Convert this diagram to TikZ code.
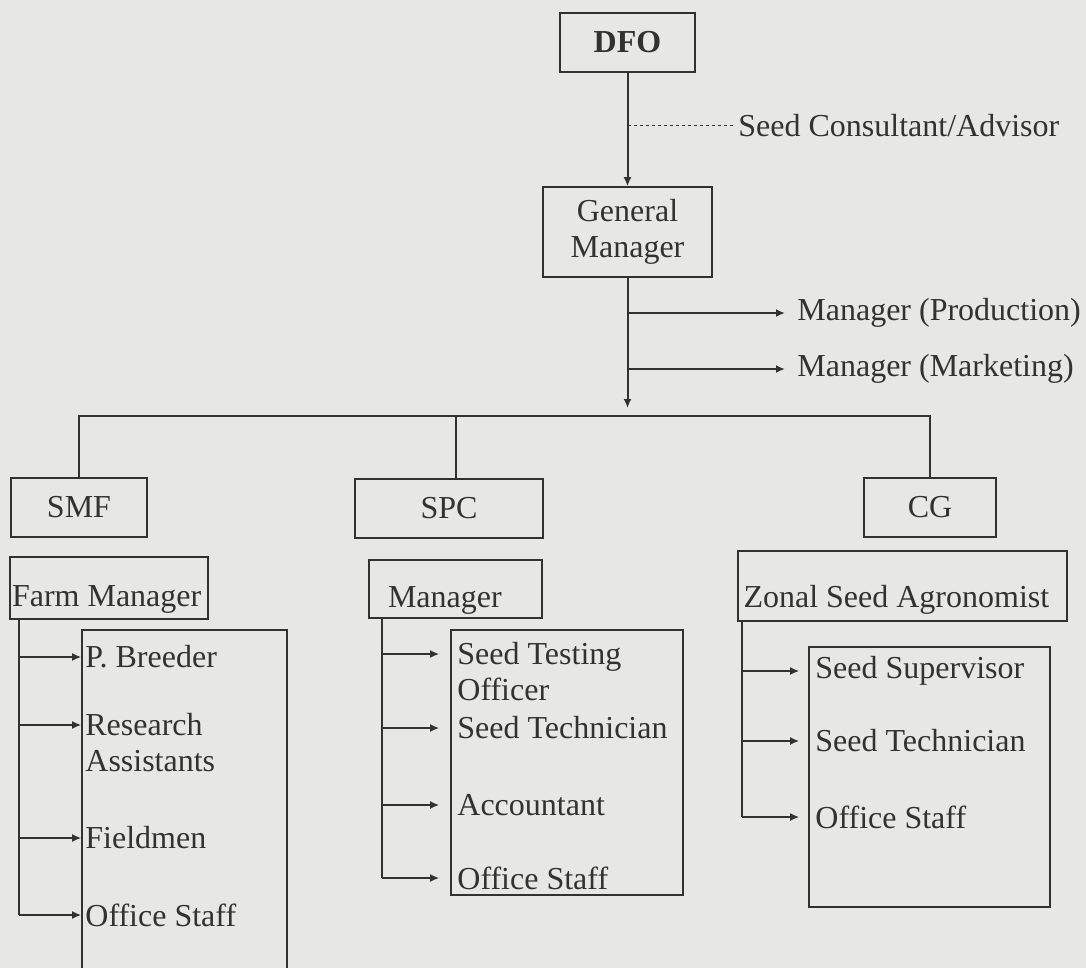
\documentclass[tikz,border=0pt]{standalone}
\usepackage{fontspec}
\setmainfont{Liberation Serif}
\usetikzlibrary{positioning,arrows.meta}
\definecolor{scan}{RGB}{231,231,229}
\definecolor{ink}{RGB}{50,50,50}

\begin{document}
\begin{tikzpicture}[x=0.5pt,y=-0.5pt,
  font=\fontsize{16}{18}\selectfont, text=ink,
  box/.style={draw=ink,line width=0.8pt,inner sep=0pt},
  head/.style={box,align=flush left,inner ysep=0pt},
  item/.style={anchor=west,align=left,inner sep=0pt},
  link/.style={draw=ink,line width=1pt},
  arr/.style={link,-{Latex[length=4.5pt,width=4pt]}}]
\fill[scan] (0,0) rectangle (1086,968);
\useasboundingbox (0,0) rectangle (1086,968);

\node[box,minimum width=67.5pt,minimum height=29.5pt,font=\fontsize{16}{18}\selectfont\bfseries] (dfo) at (627.5,42.5) {DFO};
\node[box,minimum width=84.5pt,minimum height=45pt,align=center] (gm) at (627.5,232) {General\\Manager};
\node[anchor=west,inner sep=2.5pt] (adv) at (733,126) {Seed Consultant/Advisor};
\node[anchor=west,inner xsep=6pt,inner ysep=0pt] (prod) at (785,313) {Manager (Production)};
\node[anchor=west,inner xsep=6pt,inner ysep=0pt] (mkt) at (785,369) {Manager (Marketing)};
\coordinate (bus) at (627.5,416);

\draw[arr] (dfo) -- (gm);
\draw[link,line width=0.5pt,dash pattern=on 1.5pt off 1.5pt] (dfo.south |- adv.west) -- (adv.west);
\draw[arr,shorten >=4pt] (gm.south) -- (bus);
\draw[arr] (gm.south |- prod.west) -- (prod.west);
\draw[arr] (gm.south |- mkt.west) -- (mkt.west);

\node[box,minimum width=68pt,minimum height=29.5pt] (smf) at (79,507.5) {SMF};
\node[box,minimum width=94pt,minimum height=29.5pt] (spc) at (449,508.5) {SPC};
\node[box,minimum width=66pt,minimum height=29.5pt] (cg) at (930,507.5) {CG};
\draw[link,line width=1.3pt] (smf.north) |- (bus) -| (cg.north);
\draw[link] (spc.north -| 456,0) -- (bus -| 456,0);

% SMF
\node[head,text width=97pt,inner xsep=1pt,text height=24.5pt,text depth=6.5pt] (fm) at (109,588) {Farm Manager};
\node[box,minimum width=102.5pt,minimum height=180pt] (fmin) at (184.5,810) {};
\node[item] (pb) at (85,657) {P. Breeder};
\node[item] (ra) at (85,743) {Research\\Assistants};
\node[item] (fd) at (85,838) {Fieldmen};
\node[item] (fo) at (85,915) {Office Staff};
\coordinate (fmv) at (19,619);
\coordinate (ra1) at ([yshift=9pt]ra.west);
\draw[link] (fmv |- fm.south) -- (fmv |- fo.west);
\foreach \n in {pb,ra1,fd,fo}
  \draw[arr] (fmv |- \n) -- (\n -| fmin.west);

% SPC
\node[head,text width=67.5pt,inner xsep=9.5pt,text height=23.5pt,text depth=5.5pt] (mg) at (455.5,589) {Manager};
\node[box,minimum width=116pt,minimum height=132.5pt] (spin) at (567,762.5) {};
\node[item] (sto) at (457,672) {Seed Testing\\Officer};
\node[item] (stc) at (457,728) {Seed Technician};
\node[item] (acc) at (457,805) {Accountant};
\node[item] (sos) at (457,878) {Office Staff};
\coordinate (mgv) at (382,618);
\coordinate (sto1) at ([yshift=9pt]sto.west);
\draw[link] (mgv |- mg.south) -- (mgv |- sos.west);
\foreach \n in {sto1,stc,acc,sos}
  \draw[arr,shorten >=5.5pt] (mgv |- \n) -- (\n -| spin.west);

% CG
\node[head,text width=159pt,inner xsep=2.75pt,text height=28pt,text depth=7pt] (zsa) at (902.5,586) {Zonal Seed Agronomist};
\node[box,minimum width=120.5pt,minimum height=130pt] (cgin) at (929.5,777) {};
\node[item] (ssu) at (815,671) {Seed Supervisor};
\node[item] (ste) at (815,741) {Seed Technician};
\node[item] (cos) at (815,817) {Office Staff};
\coordinate (zsv) at (742,621);
\draw[link] (zsv |- zsa.south) -- (zsv |- cos.west);
\foreach \n in {ssu,ste,cos}
  \draw[arr,shorten >=4.5pt] (zsv |- \n) -- (\n -| cgin.west);
\end{tikzpicture}
\end{document}
